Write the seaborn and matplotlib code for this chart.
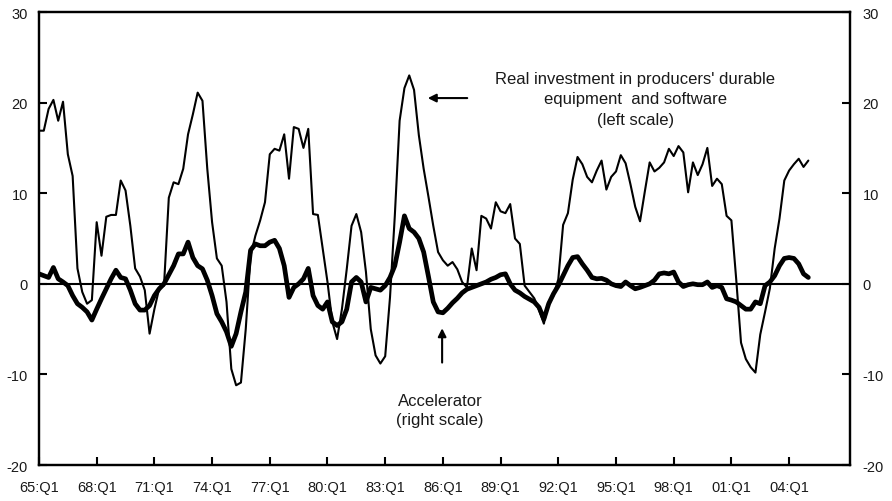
import numpy as np
import pandas as pd
import seaborn as sns
import matplotlib
matplotlib.use("Agg")
import matplotlib.pyplot as plt

# -------------------- data (quarterly, 65:Q1 - 05:Q1) -------------------- #

quarters = pd.period_range("1965Q1", "2005Q1", freq="Q")

# real investment in producers' durable equipment and software (left scale)
investment = [
    16.9, 16.9, 19.3, 20.3, 18.0, 20.1, 14.3, 11.9, 1.7, -0.9, -2.2, -1.8, 6.8, 3.1,
    7.4, 7.6, 7.6, 11.4, 10.3, 6.4, 1.7, 0.8, -0.7, -5.5, -2.8, -0.5, -0.2, 9.5,
    11.2, 11.0, 12.7, 16.5, 18.7, 21.1, 20.2, 12.7, 6.8, 2.8, 2.0, -2.0, -9.4, -11.2,
    -10.9, -5.0, 3.1, 5.3, 7.0, 9.0, 14.3, 14.9, 14.7, 16.5, 11.6, 17.3,
    17.1, 15.0, 17.1, 7.7, 7.6, 3.9, 0.2, -4.2, -6.1, -2.8, 1.6, 6.4, 7.7, 5.7,
    1.3, -5.0, -7.9, -8.8, -8.0, -1.5, 7.5, 18.0, 21.6, 23.0, 21.4, 16.4, 12.7,
    9.6, 6.4, 3.5, 2.6, 2.0, 2.4, 1.6, 0.2, -0.4, 3.9, 1.5, 7.5, 7.2, 6.1,
    9.0, 8.0, 7.8, 8.8, 5.0, 4.4, -0.2, -0.9, -1.6, -2.9, -4.4, -2.0, -1.3,
    0.5, 6.5, 7.8, 11.5, 14.0, 13.2, 11.8, 11.2, 12.5, 13.6, 10.4, 11.8, 12.4, 14.2,
    13.3, 11.0, 8.5, 6.9, 10.2, 13.4, 12.4, 12.8, 13.4, 14.9, 14.1, 15.2, 14.5, 10.1,
    13.4, 12.0, 13.2, 15.0, 10.8, 11.6, 11.0, 7.5, 7.0, 0.5, -6.5, -8.3, -9.2,
    -9.8, -5.6, -3.1, -0.5, 3.9, 7.2, 11.4, 12.5, 13.2, 13.8, 12.9, 13.6,
]

# accelerator (right scale)
accelerator = [
    1.1, 0.9, 0.7, 1.8, 0.55, 0.2, -0.2, -1.3, -2.2, -2.6, -3.1, -4.0, -2.8, -1.65,
    -0.55, 0.55, 1.5, 0.7, 0.55, -0.7, -2.2, -2.9, -2.9, -2.4, -1.3, -0.55, 0.0, 1.0,
    2.0, 3.3, 3.3, 4.6, 2.9, 2.0, 1.65, 0.4, -1.3, -3.3, -4.2, -5.3, -6.9, -5.5,
    -3.1, -0.9, 3.7, 4.4, 4.2, 4.2, 4.6, 4.8, 3.9, 2.0, -1.5, -0.4,
    0.0, 0.55, 1.7, -1.3, -2.4, -2.8, -2.0, -4.2, -4.6, -4.2, -2.8, 0.2, 0.7, 0.2,
    -2.0, -0.4, -0.55, -0.7, -0.2, 0.7, 2.0, 4.6, 7.5, 6.1, 5.7, 5.0, 3.5,
    0.8, -2.0, -3.1, -3.2, -2.7, -2.1, -1.6, -1.0, -0.6, -0.4, -0.2, 0.0, 0.2, 0.5,
    0.7, 1.0, 1.1, 0.0, -0.7, -1.0, -1.4, -1.7, -2.0, -2.6, -3.9, -2.2, -1.1,
    -0.2, 0.9, 2.0, 2.9, 3.0, 2.2, 1.5, 0.7, 0.55, 0.6, 0.4, 0.0, -0.2, -0.3,
    0.2, -0.2, -0.55, -0.4, -0.2, 0.0, 0.4, 1.1, 1.2, 1.1, 1.3, 0.2, -0.3, -0.1,
    0.0, -0.1, -0.1, 0.2, -0.4, -0.2, -0.4, -1.65, -1.8, -2.0, -2.4, -2.8, -2.8,
    -2.0, -2.2, -0.2, 0.2, 0.9, 2.0, 2.8, 2.9, 2.8, 2.2, 1.1, 0.7,
]

tick_years = list(range(1965, 2005, 3))
tick_labels = [f"{y % 100:02d}:Q1" for y in tick_years]
y_ticks = [-20, -10, 0, 10, 20, 30]

df = pd.DataFrame({
    "t": quarters.year + (quarters.quarter - 1) / 4,
    "investment": investment,
    "accelerator": accelerator,
})

# -------------------- plot -------------------- #

sns.set_style("white")
plt.rcParams["font.family"] = ["Liberation Sans", "DejaVu Sans"]
plt.rcParams["axes.unicode_minus"] = False
ink = "#1a1a1a"

fig = plt.figure(figsize=(8.92, 5.02), dpi=100)
ax = fig.add_axes([0.0437, 0.0717, 0.9093, 0.9024])
ax2 = ax.twinx()

sns.lineplot(data=df, x="t", y="investment", ax=ax, color="black", lw=1.5)
sns.lineplot(data=df, x="t", y="accelerator", ax=ax2, color="black", lw=3.4)
ax.axhline(0, color="black", lw=1.5, zorder=1)

for a in (ax, ax2):
    a.set_xlim(1965, 2007.17)
    a.set_ylim(-20, 30)
    a.set_yticks(y_ticks)
    a.set_xlabel("")
    a.set_ylabel("")
    for s in a.spines.values():
        s.set_linewidth(1.6)
        s.set_color("black")

ax.set_xticks(tick_years)
ax.set_xticklabels(tick_labels)
ax.tick_params(axis="x", direction="in", length=6, width=1.5, pad=11,
               labelsize=10.5, labelcolor=ink, bottom=True, top=False, color="black")
ax.tick_params(axis="y", direction="in", length=6, width=1.5, pad=8,
               labelsize=10.5, labelcolor=ink, left=True, color="black")
ax2.tick_params(axis="y", direction="in", length=6, width=1.5, pad=9,
                labelsize=10.5, labelcolor=ink, right=True, color="black")

# annotations
ax.text(1996.0, 20.4, "Real investment in producers' durable\nequipment  and software\n(left scale)",
        ha="center", va="center", fontsize=12, color=ink, linespacing=1.45)
ax.annotate("", xy=(1985.07, 20.5), xytext=(1987.41, 20.5),
            arrowprops=dict(arrowstyle="-|>", color="black", lw=1.5, mutation_scale=12))

ax.text(1985.85, -13.95, "Accelerator\n(right scale)",
        ha="center", va="center", fontsize=12, color=ink, linespacing=1.35)
ax.annotate("", xy=(1985.96, -4.6), xytext=(1985.96, -9.0),
            arrowprops=dict(arrowstyle="-|>", color="black", lw=1.5, mutation_scale=12))

plt.savefig("out.png", dpi=100)
